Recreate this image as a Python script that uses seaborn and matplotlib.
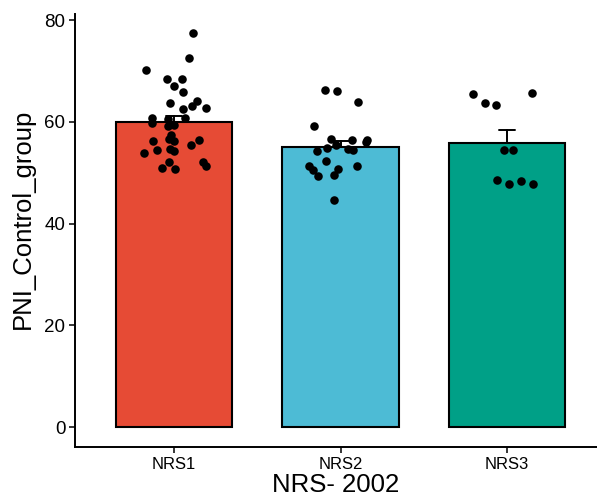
import numpy as np
import pandas as pd
import matplotlib
matplotlib.use("Agg")
import matplotlib.pyplot as plt
import seaborn as sns

# Group labels and fill colours
groups = ["NRS1", "NRS2", "NRS3"]
colors = ["#E64B35", "#4DBBD5", "#00A087"]

# Individual PNI values per group
nrs1 = [77.5, 72.6, 70.1, 68.4, 68.4, 67.1, 65.8, 63.7, 64.2, 63.1, 62.8,
        62.5, 60.7, 60.8, 60.5, 59.7, 59.1, 59.3, 57.5, 56.7, 56.2, 56.2,
        56.4, 55.5, 54.4, 53.8, 54.6, 54.2, 52.2, 51.3, 52.2, 51.0, 50.7]
nrs2 = [66.2, 66.1, 64.0, 59.1, 56.7, 56.4, 56.5, 56.0, 55.5, 54.8, 54.3,
        54.6, 54.4, 52.3, 51.4, 50.6, 49.4, 50.7, 49.6, 51.3, 44.6]
nrs3 = [65.5, 65.6, 63.7, 63.4, 54.4, 54.4, 48.5, 47.8, 48.3, 47.7]

# Horizontal jitter of each point (category units)
jit1 = [0.114, 0.092, -0.166, -0.044, 0.046, 0.002, 0.054, -0.026, 0.140,
        0.108, 0.190, 0.054, -0.130, 0.068, -0.034, -0.134, -0.034, 0.0,
        -0.018, -0.028, 0.0, -0.124, 0.152, 0.100, -0.102, -0.182, -0.026,
        0.0, 0.172, 0.192, -0.030, -0.072, 0.008]
jit2 = [-0.094, -0.022, 0.106, -0.160, -0.060, 0.070, 0.160, 0.152, -0.028,
        -0.082, -0.142, 0.044, 0.074, -0.086, -0.192, -0.168, -0.138, -0.018,
        -0.040, 0.098, -0.040]
jit3 = [-0.202, 0.152, -0.134, -0.066, -0.018, 0.034, -0.058, 0.010, 0.082,
        0.158]

yticks = [0, 20, 40, 60, 80]

values = [nrs1, nrs2, nrs3]
jitters = [jit1, jit2, jit3]
df = pd.DataFrame({
    "group": np.repeat(groups, [len(v) for v in values]),
    "PNI": np.concatenate(values),
    "xpos": np.concatenate([i + np.array(j) for i, j in enumerate(jitters)]),
})

sns.set_style("ticks")
plt.rcParams["font.family"] = ["Liberation Sans", "DejaVu Sans"]
plt.rcParams["axes.labelcolor"] = "black"

fig = plt.figure(figsize=(5.97, 4.97), dpi=100)
ax = fig.add_axes([0.1256, 0.1006, 0.8744, 0.8712])

sns.barplot(data=df, x="group", y="PNI", hue="group", palette=colors,
            order=groups, errorbar="se", capsize=0.1, width=0.7,
            saturation=1,
            err_kws={"color": "black", "linewidth": 1.4},
            edgecolor="black", linewidth=1.5, legend=False, ax=ax)

# error bars sit behind the bars so only the upper half shows
for ln in ax.lines:
    ln.set_zorder(1)
for p in ax.patches:
    p.set_zorder(2)

sns.scatterplot(data=df, x="xpos", y="PNI", color="black", s=38,
                edgecolor="black", linewidth=0, zorder=3, ax=ax)

ax.set_xlim(-0.595, 2.54)
ax.set_ylim(-3.9, 81.2)
ax.set_yticks(yticks)
ax.set_xticks(range(len(groups)))
ax.set_xticklabels(groups)
ax.set_xlabel("NRS- 2002", fontsize=18.5, labelpad=1, color="black")
ax.set_ylabel("PNI_Control_group", fontsize=18.5, color="black")
ax.yaxis.set_label_coords(-0.077, 0.527)
ax.tick_params(axis="both", length=4, width=1.1,
               color="black", labelcolor="black", pad=3)
ax.tick_params(axis="x", labelsize=12)
ax.tick_params(axis="y", labelsize=13.5)
for side in ["left", "bottom"]:
    ax.spines[side].set_linewidth(1.4)
    ax.spines[side].set_color("black")
sns.despine(ax=ax)

fig.savefig("out.png", dpi=100)
